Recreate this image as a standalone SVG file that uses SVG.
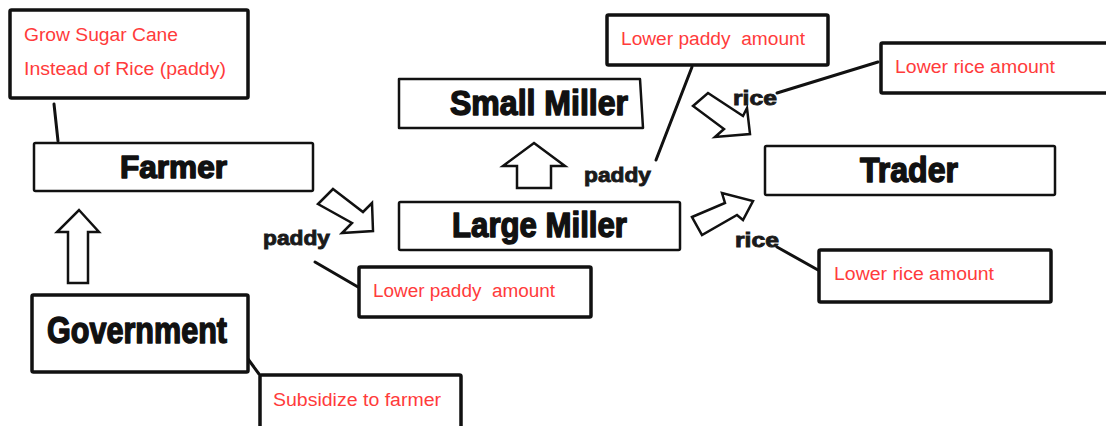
<svg xmlns="http://www.w3.org/2000/svg" width="1106" height="426" viewBox="0 0 1106 426">
  <style>
    .box { fill: #ffffff; stroke: #111111; stroke-width: 2.5; stroke-linejoin: round; }
    .note { fill: #ffffff; stroke: #111111; stroke-width: 3.5; stroke-linejoin: round; }
    .title { font-family: "Liberation Sans", "DejaVu Sans", Arial, sans-serif; font-weight: bold; fill: #111111; stroke: #111111; stroke-width: 1.5; stroke-linejoin: round; }
    .flow { font-family: "Liberation Sans", "DejaVu Sans", Arial, sans-serif; font-weight: bold; fill: #1a1a1a; stroke: #1a1a1a; stroke-width: 0.9; font-size: 21px; }
    .red { font-family: "Liberation Sans", "Noto Sans", Arial, sans-serif; fill: #ff3b3b; font-size: 18px; }
    .lead { stroke: #111111; stroke-width: 3; fill: none; stroke-linecap: round; }
    .block { fill: #ffffff; stroke: #111111; stroke-width: 2.5; stroke-linejoin: miter; }
  </style>
  <rect width="1106" height="426" fill="#ffffff"/>

  <!-- connectors: block arrows and leader lines -->
  <g id="connectors">
    <!-- Government to Farmer -->
    <polygon class="block" points="79,210 99,232 88,232 88,283 68,283 68,232 57,232"/>
    <!-- Farmer to Large Miller -->
    <polygon class="block" points="333,189 363,212 372,203 373,231 342,233 352,223 318,204"/>
    <!-- Large Miller to Small Miller -->
    <polygon class="block" points="534,143 565,166 551,166 551,188 517,188 517,166 503,166"/>
    <!-- Small Miller to Trader -->
    <polygon class="block" points="708,93 743,116 747,108 750,134 715,137 724,129 693,106"/>
    <!-- Large Miller to Trader -->
    <polygon class="block" points="692,217 725,203 722,193 753,201 743,220 737,215 702,235"/>

    <!-- leader lines to notes -->
    <line class="lead" x1="54" y1="104" x2="58" y2="141"/>
    <line class="lead" x1="248" y1="359" x2="259" y2="374"/>
    <line class="lead" x1="315" y1="262" x2="358" y2="287"/>
    <line class="lead" x1="692" y1="67" x2="656" y2="160"/>
    <line class="lead" x1="878" y1="62" x2="777" y2="93"/>
    <line class="lead" x1="777" y1="247" x2="818" y2="270"/>

    <!-- flow labels -->
    <text class="flow" x="263" y="245" textLength="67" lengthAdjust="spacingAndGlyphs">paddy</text>
    <text class="flow" x="584" y="182" textLength="67" lengthAdjust="spacingAndGlyphs">paddy</text>
    <text class="flow" x="733" y="105" font-size="22" textLength="44" lengthAdjust="spacingAndGlyphs">rice</text>
    <text class="flow" x="735" y="247" font-size="22" textLength="44" lengthAdjust="spacingAndGlyphs">rice</text>
  </g>

  <!-- actors -->
  <g id="farmer">
    <rect class="box" x="34" y="143" width="279" height="48" rx="1.5"/>
    <text class="title" x="120" y="178" font-size="31" textLength="107" lengthAdjust="spacingAndGlyphs">Farmer</text>
  </g>
  <g id="government">
    <rect class="note" x="32" y="295" width="216" height="77" rx="1.5"/>
    <text class="title" x="47" y="343" font-size="36" stroke-width="2" textLength="180" lengthAdjust="spacingAndGlyphs">Government</text>
  </g>
  <g id="small-miller">
    <polygon class="box" points="399,79 640,79 643,128 399,128"/>
    <text class="title" x="450" y="115" font-size="35" textLength="178" lengthAdjust="spacingAndGlyphs">Small Miller</text>
  </g>
  <g id="large-miller">
    <rect class="box" x="399" y="202" width="281" height="48" rx="1.5"/>
    <text class="title" x="452" y="237" font-size="35" textLength="175" lengthAdjust="spacingAndGlyphs">Large Miller</text>
  </g>
  <g id="trader">
    <rect class="box" x="765" y="146" width="290" height="49" rx="1.5"/>
    <text class="title" x="860" y="182" font-size="35" textLength="98" lengthAdjust="spacingAndGlyphs">Trader</text>
  </g>

  <!-- notes -->
  <g id="note-sugar-cane">
    <rect class="note" x="10" y="10" width="238" height="88" rx="1.5"/>
    <text class="red" x="24" y="41" textLength="154" lengthAdjust="spacingAndGlyphs">Grow Sugar Cane</text>
    <text class="red" x="24" y="75" textLength="202" lengthAdjust="spacingAndGlyphs">Instead of Rice (paddy)</text>
  </g>
  <g id="note-subsidy">
    <rect class="note" x="260" y="375" width="201" height="56" rx="1.5"/>
    <text class="red" x="273" y="406" textLength="168" lengthAdjust="spacingAndGlyphs">Subsidize to farmer</text>
  </g>
  <g id="note-paddy-farmer">
    <rect class="note" x="359" y="267" width="232" height="50" rx="1.5"/>
    <text class="red" x="373" y="297" textLength="182" lengthAdjust="spacingAndGlyphs">Lower paddy&#160; amount</text>
  </g>
  <g id="note-paddy-miller">
    <rect class="note" x="607" y="15" width="221" height="50" rx="1.5"/>
    <text class="red" x="621" y="45" textLength="184" lengthAdjust="spacingAndGlyphs">Lower paddy&#160; amount</text>
  </g>
  <g id="note-rice-small">
    <rect class="note" x="881" y="43" width="232" height="50" rx="1.5"/>
    <text class="red" x="895" y="73" textLength="160" lengthAdjust="spacingAndGlyphs">Lower rice amount</text>
  </g>
  <g id="note-rice-large">
    <rect class="note" x="819" y="250" width="232" height="52" rx="1.5"/>
    <text class="red" x="834" y="280" textLength="160" lengthAdjust="spacingAndGlyphs">Lower rice amount</text>
  </g>
</svg>
